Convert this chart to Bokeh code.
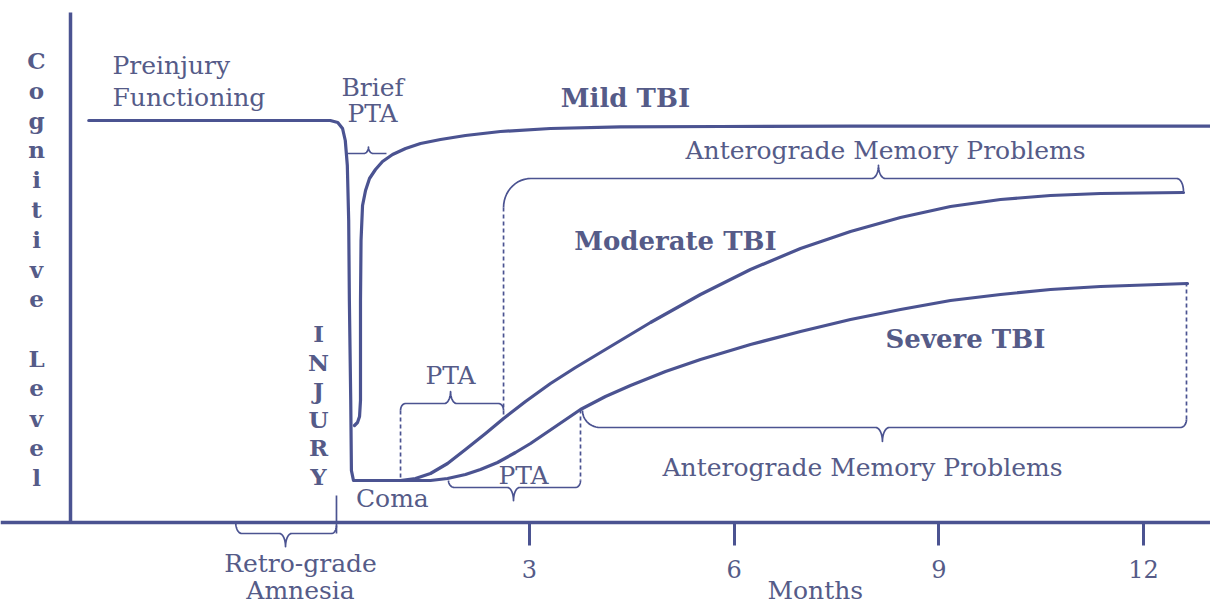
import numpy as np
from bokeh.plotting import figure
from bokeh.models import FixedTicker, Range1d
from bokeh.core.properties import value
from bokeh.embed import file_html
from bokeh.resources import INLINE

# ---------------- data (x = months after injury, y = cognitive level) ----------------
pre_x = [-3.46, 0.08, 0.19, 0.26, 0.30, 0.33, 0.35, 0.36, 0.38, 0.39, 0.42, 1.11]
pre_y = [100.5, 100.5, 100.0, 98.5, 95.5, 89.25, 75.5, 55.5, 30.5, 13.0, 10.5, 10.5]

mild_x = [0.435, 0.479, 0.509, 0.523, 0.523, 0.531, 0.553, 0.597, 0.655, 0.743,
          0.846, 0.993, 1.184, 1.403, 1.696, 2.062, 2.575, 3.308, 4.335, 5.801,
          7.706, 12.983]
mild_y = [24.25, 25.0, 26.5, 30.5, 55.5, 70.5, 79.25, 83.0, 86.0, 88.25,
          90.25, 92.0, 93.5, 94.75, 95.75, 96.75, 97.75, 98.5, 98.9, 99.0,
          99.1, 99.1]

moderate_x = [1.110, 1.329, 1.549, 1.799, 2.062, 2.356, 2.620, 2.942, 3.308, 3.675,
              4.041, 4.774, 5.507, 6.240, 6.973, 7.706, 8.439, 9.172, 9.905, 10.638,
              11.371, 12.587]
moderate_y = [10.5, 11.0, 12.25, 14.75, 18.25, 22.25, 26.0, 30.25, 34.75, 38.75,
              42.5, 50.0, 57.0, 63.25, 68.5, 72.75, 76.25, 79.0, 80.75, 81.75,
              82.25, 82.5]

severe_x = [1.110, 1.549, 1.799, 2.062, 2.282, 2.532, 2.795, 3.015, 3.382, 3.748,
            4.114, 4.481, 4.994, 5.507, 6.240, 6.973, 7.706, 8.439, 9.172, 9.905,
            10.638, 11.371, 12.646]
severe_y = [10.5, 10.5, 11.0, 12.0, 13.25, 15.0, 17.5, 19.75, 24.0, 28.25,
            31.5, 34.25, 37.75, 40.75, 44.5, 47.75, 50.75, 53.25, 55.5, 57.0,
            58.25, 59.0, 59.75]

tick_values = [3, 6, 9, 12]
tick_labels = ["3", "6", "9", "12"]

LINE = "#4b5391"
TEXT = "#555b88"
FONT = value("DejaVu Serif")

p = figure(width=1210, height=604, x_range=Range1d(-4.754, 12.983),
           y_range=Range1d(-20.5, 130.5), output_backend="svg",
           toolbar_location=None, min_border=0)
p.min_border_left = p.min_border_right = p.min_border_top = p.min_border_bottom = 0
p.xgrid.visible = False
p.ygrid.visible = False
p.outline_line_color = None
p.background_fill_color = "white"
p.border_fill_color = "white"

# axes placed inside the frame
xa = p.xaxis[0]
xa.fixed_location = 0
xa.ticker = FixedTicker(ticks=tick_values, minor_ticks=[])
xa.major_label_overrides = {v: l for v, l in zip(tick_values, tick_labels)}
xa.axis_line_color = LINE
xa.axis_line_width = 3.5
xa.major_tick_line_color = LINE
xa.major_tick_line_width = 3
xa.major_tick_out = 23
xa.major_tick_in = 0
xa.minor_tick_line_color = None
xa.major_label_text_font = "DejaVu Serif"
xa.major_label_text_font_size = "24px"
xa.major_label_text_color = TEXT
xa.major_label_standoff = 14

ya = p.yaxis[0]
ya.fixed_location = -3.728
ya.bounds = (0, 127.5)
ya.ticker = FixedTicker(ticks=[], minor_ticks=[])
ya.axis_line_color = LINE
ya.axis_line_width = 3.5
ya.major_tick_line_color = None
ya.minor_tick_line_color = None
ya.major_label_text_color = None

# ---------------- curves ----------------
for xs, ys in [(pre_x, pre_y), (mild_x, mild_y), (moderate_x, moderate_y), (severe_x, severe_y)]:
    p.line(xs, ys, line_color=LINE, line_width=3.2, line_join="round", line_cap="round")

# ---------------- braces (annotation geometry) ----------------
def brace(x0, x1, y, d0, d1, r0, r1, xt, t, w, n=14):
    th = np.linspace(0, np.pi / 2, n)
    xs, ys = [], []
    if d0 != 0:
        xs += list(x0 + r0 * (1 - np.cos(th)))
        ys += list(y + d0 * (1 - np.sin(th)))
    else:
        xs.append(x0); ys.append(y)
    xs += list(xt - w + w * np.sin(th))
    ys += list(y + t * (1 - np.cos(th)))
    xs += list(xt + w - w * np.cos(th))
    ys += list(y + t * (1 - np.sin(th)))
    if d1 != 0:
        xs += list(x1 - r1 + r1 * np.sin(th))
        ys += list(y + d1 * (1 - np.cos(th)))
    else:
        xs.append(x1); ys.append(y)
    return xs, ys

brace_specs = [
    # x0, x1, y, d0, d1, r0, r1, xtip, tip, tip_w
    (0.333, 0.904, 92.25, 0, 0, 0, 0, 0.640, 1.6, 0.07),               # brief PTA
    (2.620, 12.587, 86.0, -7.25, -3.2, 0.40, 0.10, 8.116, 3.3, 0.10),  # anterograde (moderate)
    (1.110, 2.620, 29.75, -1.75, -1.75, 0.073, 0.073, 1.843, 3.0, 0.09),  # PTA (moderate)
    (1.813, 3.748, 8.75, 1.75, 1.75, 0.088, 0.073, 2.766, -3.3, 0.09),   # PTA (severe)
    (3.777, 12.631, 23.75, 4.25, 2.0, 0.26, 0.09, 8.174, -3.5, 0.10),   # anterograde (severe)
    (-1.306, 0.171, -2.75, 2.75, 2.0, 0.088, 0.073, -0.576, -3.3, 0.09),  # retro-grade
]
bx, by = [], []
for s in brace_specs:
    xs, ys = brace(*s)
    bx.append(xs); by.append(ys)
p.multi_line(bx, by, line_color=LINE, line_width=1.7, line_join="round")

# dashed guides
p.segment(x0=[1.110, 2.620, 3.748, 12.631], y0=[28.0, 78.75, 28.25, 25.75],
          x1=[1.110, 2.620, 3.748, 12.631], y1=[11.0, 26.0, 10.5, 59.75],
          line_color=LINE, line_width=1.7, line_dash="4 3")
# injury mark
p.segment(x0=[0.171], y0=[6.75], x1=[0.171], y1=[-2.75], line_color=LINE, line_width=1.7)

# ---------------- labels ----------------
p.text(x=[-3.112, -3.112], y=[114.25, 106.25], text=["Preinjury", "Functioning"],
       text_font=FONT, text_font_size="25px", text_color=TEXT,
       text_align="left", text_baseline="middle")

c_text = ["Brief", "PTA", "Anterograde Memory Problems", "PTA", "PTA",
          "Anterograde Memory Problems", "Coma", "Retro-grade", "Amnesia", "Months"]
c_x = [0.700, 0.700, 8.219, 1.843, 2.913, 7.882, 0.990, -0.356, -0.356, 7.19]
c_y = [108.75, 102.25, 93.0, 36.75, 11.75, 13.75, 6.0, -10.25, -17.0, -17.0]
p.text(x=c_x, y=c_y, text=c_text, text_font=FONT, text_font_size="25px",
       text_color=TEXT, text_align="center", text_baseline="middle")

b_text = ["Mild TBI", "Moderate TBI", "Severe TBI"]
b_x = [4.407, 5.140, 9.391]
b_y = [106.25, 70.5, 46.0]
p.text(x=b_x, y=b_y, text=b_text, text_font=FONT, text_font_size="26px",
       text_font_style="bold", text_color=TEXT, text_align="center", text_baseline="middle")

# vertical letter stacks
def stack(word, x, y0, step):
    xs, ys, ts = [], [], []
    for i, ch in enumerate(word):
        if ch != " ":
            xs.append(x); ys.append(y0 - i * step); ts.append(ch)
    return xs, ys, ts

for word, x, y0, step in [("Cognitive Level", -4.226, 115.5, 7.45),
                          ("INJURY", -0.092, 47.25, 7.15)]:
    xs, ys, ts = stack(word, x, y0, step)
    p.text(x=xs, y=ys, text=ts, text_font=FONT, text_font_size="23px",
           text_font_style="bold", text_color=TEXT, text_align="center",
           text_baseline="middle")

open("out.html", "w").write(file_html(p, INLINE))
